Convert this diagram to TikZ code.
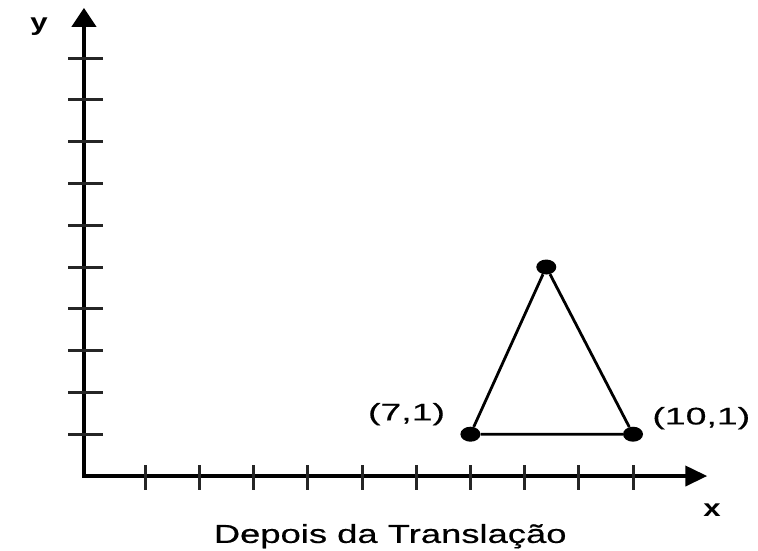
\documentclass[tikz,border=0pt]{standalone}
\usepackage{fontspec}
\usepackage{tikz}
\usetikzlibrary{arrows.meta, positioning, shapes.geometric}
\newfontfamily\capfont[FakeStretch=1.4, FakeBold=0.5]{Liberation Sans}
\newfontfamily\lblfont[FakeStretch=1.56, FakeBold=0.5]{Liberation Sans}
\newfontfamily\axfont[FakeStretch=1.3]{Liberation Sans}
\tikzset{
  axis/.style={line width=4pt, {Triangle[length=19pt, width=24pt]}-{Triangle[length=22pt, width=20pt]}},
  tickline/.style={line width=3pt, color=black!85},
  side/.style={line width=2.8pt},
  vertex/.style={ellipse, fill=black, inner sep=0pt,
    minimum width=20pt, minimum height=15pt},
  ptlabel/.style={font=\lblfont\fontsize{24}{28}\selectfont, inner sep=0pt},
  axlabel/.style={font=\axfont\bfseries\fontsize{24}{28}\selectfont, inner sep=0pt},
  titletext/.style={font=\capfont\fontsize{26}{30}\selectfont, inner sep=0pt}
}

\begin{document}
\begin{tikzpicture}[x=54.2pt, y=41.8pt]
  \useasboundingbox (-1.679,-1.770) rectangle (12.306,11.388);

  % Axes
  \coordinate (O) at (-0.13,0);
  \coordinate (xend) at (11.37,0);
  \coordinate (yend) at (-0.13,11.2);
  \draw[axis] (yend) -- (O) -- (xend);
  \foreach \i in {1,...,10} {
    \draw[tickline] (\i,-0.33) -- (\i,0.26);
    \draw[tickline] (-0.42,\i) -- (0.22,\i);
  }
  \node[axlabel] (xlab) at (11.46,-0.81) {x};
  \node[axlabel] (ylab) at (-0.96,10.74) {y};

  % Triangle after translation
  \node[vertex] (a) at (7,1) {};
  \node[vertex] (b) at (10,1) {};
  \node[vertex] (c) at (8.4,5) {};
  \draw[side] (a) -- (b) -- (c) -- (a);
  \node[ptlabel, left=15pt of a, yshift=20pt] (alab) {(7,1)};
  \node[ptlabel, right=9pt of b, yshift=16pt] (blab) {(10,1)};

  \node[titletext, anchor=base] (title) at (5.52,-1.60) {Depois da Translação};
\end{tikzpicture}
\end{document}
